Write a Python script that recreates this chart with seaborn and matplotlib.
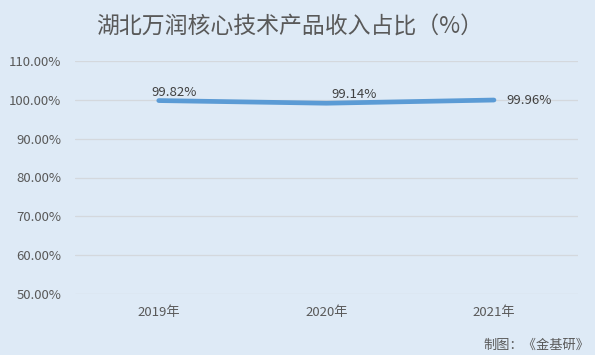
import matplotlib.pyplot as plt
import pandas as pd
import seaborn as sns
from matplotlib.ticker import FuncFormatter

years = ["2019年", "2020年", "2021年"]
share = [99.82, 99.14, 99.96]
y_ticks = [50, 60, 70, 80, 90, 100, 110]

TITLE = "湖北万润核心技术产品收入占比（%）"
SOURCE = "制图：《金基研》"

BG = "#DEEAF6"
LINE = "#5B9BD5"
TEXT = "#595959"

sns.set_theme(style="whitegrid")
plt.rcParams["font.family"] = ["Noto Sans CJK SC", "DejaVu Sans"]

df = pd.DataFrame({"year": years, "share": share})
df["pos"] = range(len(df))

fig = plt.figure(figsize=(5.95, 3.55), dpi=100, facecolor=BG)
ax = fig.add_axes([0.126, 0.172, 0.845, 0.656])
ax.set_facecolor(BG)

sns.lineplot(data=df, x="pos", y="share", ax=ax, color=LINE, linewidth=3.4,
             solid_capstyle="round")

# label offsets in pixels, as the spreadsheet placed them
offsets = [(15, 8), (28, 9), (35, 0)]
for (_, row), (dx, dy) in zip(df.iterrows(), offsets):
    ax.annotate(f"{row['share']:.2f}%", (row["pos"], row["share"]), xytext=(dx, dy),
                textcoords="offset pixels", ha="center", va="center",
                fontsize=9.5, color="#404040")

ax.set_xlim(-0.5, len(df) - 0.5)
ax.set_ylim(min(y_ticks), max(y_ticks))
ax.set_xticks(df["pos"])
ax.set_xticklabels(years)
ax.set_yticks(y_ticks)
ax.yaxis.set_major_formatter(FuncFormatter(lambda v, _: f"{v:.2f}%"))
ax.tick_params(axis="both", labelsize=9.5, colors=TEXT, length=0)
ax.tick_params(axis="y", pad=10)
ax.tick_params(axis="x", pad=9)
ax.grid(axis="y", color="#D4D8DD", linewidth=0.9)
ax.grid(axis="x", visible=False)
for side in ax.spines.values():
    side.set_visible(False)
ax.set_xlabel("")
ax.set_ylabel("")

fig.text(0.486, 0.925, TITLE, ha="center", va="center", fontsize=16.5, color=TEXT)
fig.text(0.99, 0.028, SOURCE, ha="right", va="center", fontsize=9.5, color=TEXT)

fig.savefig("out.png", dpi=100, facecolor=BG)
